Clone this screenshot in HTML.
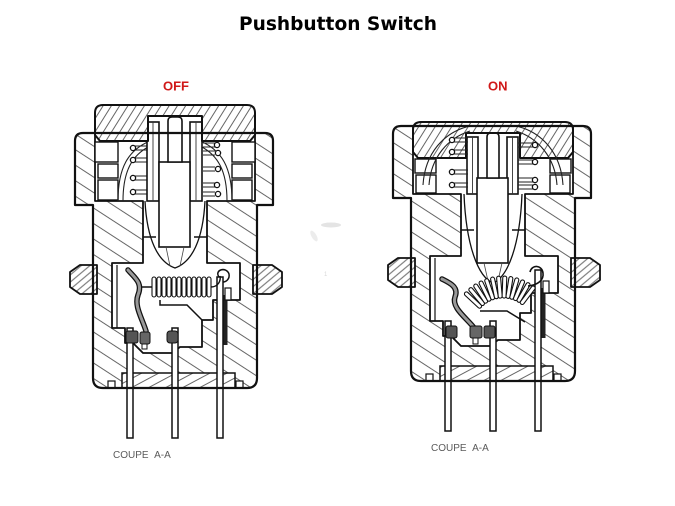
<!DOCTYPE html>
<html><head><meta charset="utf-8">
<style>
html,body{margin:0;padding:0;background:#fff;}
svg{display:block;}
</style></head><body>
<svg width="675" height="506" viewBox="0 0 675 506" xmlns="http://www.w3.org/2000/svg">
<defs>
  <pattern id="hH" patternUnits="userSpaceOnUse" width="60" height="13" patternTransform="rotate(33)">
    <rect width="60" height="13" fill="#fff"/>
    <line x1="0" y1="6.5" x2="60" y2="6.5" stroke="#666" stroke-width="0.9"/>
  </pattern>
  <pattern id="hC" patternUnits="userSpaceOnUse" width="60" height="7" patternTransform="rotate(-58)">
    <rect width="60" height="7" fill="#fff"/>
    <line x1="0" y1="3.5" x2="60" y2="3.5" stroke="#666" stroke-width="0.9"/>
  </pattern>
  <pattern id="hB" patternUnits="userSpaceOnUse" width="60" height="8" patternTransform="rotate(-28)">
    <rect width="60" height="8" fill="#fff"/>
    <line x1="0" y1="4" x2="60" y2="4" stroke="#666" stroke-width="0.9"/>
  </pattern>
  <pattern id="hK" patternUnits="userSpaceOnUse" width="60" height="5.5" patternTransform="rotate(-40)">
    <rect width="60" height="5.5" fill="#fff"/>
    <line x1="0" y1="2.75" x2="60" y2="2.75" stroke="#666" stroke-width="0.9"/>
  </pattern>

  <g id="housing">
    <!-- hatched body -->
    <path d="M83,133 H265 Q273,133 273,141 V205 H257 V378 Q257,388 247,388 H103 Q93,388 93,378 V205 H75 V141 Q75,133 83,133 Z" fill="url(#hH)"/>
    <!-- cavities -->
    <path d="M95,133 H255 V201 H207 V263 H240 V300 H213 V320 H202 V347 H180 L172,353 H143 L133,343 H125 V328 H112 V263 H143 V201 H95 Z" fill="#fff" stroke="#111" stroke-width="1.8" stroke-linejoin="round"/>
    <line x1="117" y1="265" x2="117" y2="328" stroke="#111" stroke-width="1.2"/>
    <!-- bore ledges -->
    <path d="M143,237 H156 M207,237 H194" stroke="#111" stroke-width="1.4" fill="none"/>
    <!-- knobs -->
    <path d="M80,265 L70,272 V287 L80,294 H97 V265 Z" fill="url(#hK)" stroke="#111" stroke-width="1.8" stroke-linejoin="round"/>
    <path d="M253,265 H272 L282,272 V287 L272,294 H253 Z" fill="url(#hK)" stroke="#111" stroke-width="1.8" stroke-linejoin="round"/>
    <line x1="93" y1="265" x2="93" y2="294" stroke="#111" stroke-width="1.8"/>
    <line x1="257" y1="265" x2="257" y2="294" stroke="#111" stroke-width="1.8"/>
    <!-- base plate -->
    <rect x="122" y="373" width="113" height="15" fill="url(#hB)" stroke="#111" stroke-width="1.5"/>
    <rect x="108" y="381" width="7" height="7" fill="#fff" stroke="#111" stroke-width="1.2"/>
    <rect x="236" y="381" width="7" height="7" fill="#fff" stroke="#111" stroke-width="1.2"/>
    <!-- blade -->
    <rect x="223.5" y="295" width="4" height="50" fill="#222"/>
    <rect x="225" y="288" width="6" height="12" fill="#fff" stroke="#111" stroke-width="1.2"/>
    <!-- pins -->
    <g fill="#fff" stroke="#111" stroke-width="1.5">
      <rect x="127" y="328" width="6" height="110"/>
      <rect x="172" y="328" width="6" height="110"/>
      <rect x="217" y="277" width="6" height="161"/>
    </g>
    <text x="113" y="458" font-family="Liberation Sans, Arial, sans-serif" font-size="10" fill="#5a5a5a">COUPE&#160;&#160;A-A</text>
  </g>

  <g id="outline" fill="none" stroke="#111" stroke-width="2.2" stroke-linejoin="round">
    <path d="M83,133 H265 Q273,133 273,141 V205 H257 V378 Q257,388 247,388 H103 Q93,388 93,378 V205 H75 V141 Q75,133 83,133 Z"/>
  </g>

  <path id="cap" d="M103,105 H247 Q255,105 255,113 V135 L250,141 H202 V116 H148 V141 H100 L95,135 V113 Q95,105 103,105 Z" fill="url(#hC)" stroke="#111" stroke-width="2" stroke-linejoin="round"/>
</defs>

<!-- Title -->
<text x="338" y="30" text-anchor="middle" font-family="DejaVu Sans, Verdana, sans-serif" font-weight="bold" font-size="18.6" fill="#000">Pushbutton Switch</text>
<text x="163" y="90.5" font-family="Liberation Sans, Arial, sans-serif" font-weight="bold" font-size="13" fill="#d01818">OFF</text>
<text x="488" y="90.5" font-family="Liberation Sans, Arial, sans-serif" font-weight="bold" font-size="13" fill="#d01818">ON</text>

<!-- faint artifacts -->
<ellipse cx="331" cy="225" rx="10" ry="2.5" fill="#e4e4e4"/>
<ellipse cx="314" cy="236" rx="2.5" ry="6" fill="#ececec" transform="rotate(-30 314 236)"/>
<text x="324" y="276" font-family="Liberation Sans, sans-serif" font-size="6" fill="#d8d8d8">1</text>

<!-- ================= OFF ================= -->
<use href="#housing"/>
<g>
  <!-- spring chamber boxes -->
  <g fill="#fff" stroke="#111" stroke-width="1.4">
    <rect x="95" y="142" width="23" height="20"/>
    <rect x="98" y="164" width="20" height="14"/>
    <rect x="98" y="180" width="20" height="20"/>
    <rect x="232" y="142" width="23" height="20"/>
    <rect x="232" y="164" width="20" height="14"/>
    <rect x="232" y="180" width="20" height="20"/>
  </g>
  <!-- dome -->
  <g fill="none" stroke="#222" stroke-width="1.1">
    <path d="M118,201 C118,168 128,150 150,141"/>
    <path d="M123,201 C123,171 132,155 150,146"/>
    <path d="M232,201 C232,168 222,150 200,141"/>
    <path d="M227,201 C227,171 218,155 200,146"/>
    <path d="M135,146 H147 M135,150 H147 M135,158 H147 M135,162 H147 M135,176 H147 M135,180 H147 M135,190 H147 M135,194 H147"/>
    <path d="M203,143 H215 M203,147 H215 M203,151 H215 M203,155 H215 M203,167 H215 M203,171 H215 M203,183 H215 M203,187 H215 M203,192 H215 M203,196 H215"/>
  </g>
  <g fill="#fff" stroke="#111" stroke-width="1.3">
    <circle cx="133" cy="148" r="2.6"/><circle cx="133" cy="160" r="2.6"/>
    <circle cx="133" cy="178" r="2.6"/><circle cx="133" cy="192" r="2.6"/>
    <circle cx="217" cy="145" r="2.6"/><circle cx="218" cy="153" r="2.6"/>
    <circle cx="218" cy="169" r="2.6"/><circle cx="217" cy="185" r="2.6"/>
    <circle cx="218" cy="194" r="2.6"/>
  </g>
  <!-- sleeves and plunger -->
  <g fill="#fff" stroke="#111" stroke-width="1.6">
    <rect x="147" y="122" width="12" height="79"/>
    <rect x="190" y="122" width="12" height="79"/>
    <rect x="159" y="162" width="31" height="85"/>
    <path d="M168,162 V121 Q168,117 172,117 H178 Q182,117 182,121 V162 Z"/>
  </g>
  <path d="M153,122 V201 M196,122 V201" stroke="#333" stroke-width="0.9"/>
  <path d="M145,201 C147,240 158,262 175,268 C192,262 203,240 205,201" fill="none" stroke="#111" stroke-width="1.3"/>
  <path d="M166,247 L170,266 M184,247 L180,266" fill="none" stroke="#444" stroke-width="0.8"/>
  <!-- lower chamber -->
  <polyline points="160,300 160,305 187,305 202,320" fill="none" stroke="#111" stroke-width="1.5"/>
  <g fill="#fff" stroke="#111" stroke-width="1.1">
    <rect x="152" y="277" width="4" height="20" rx="2"/>
    <rect x="157" y="277" width="4" height="20" rx="2"/>
    <rect x="162" y="277" width="4" height="20" rx="2"/>
    <rect x="167" y="277" width="4" height="20" rx="2"/>
    <rect x="172" y="277" width="4" height="20" rx="2"/>
    <rect x="177" y="277" width="4" height="20" rx="2"/>
    <rect x="182" y="277" width="4" height="20" rx="2"/>
    <rect x="187" y="277" width="4" height="20" rx="2"/>
    <rect x="192" y="277" width="4" height="20" rx="2"/>
    <rect x="197" y="277" width="4" height="20" rx="2"/>
    <rect x="202" y="277" width="4" height="20" rx="2"/>
    <rect x="207" y="277" width="4" height="20" rx="2"/>
  </g>
  <path d="M152,287 H139 M211,287 C218,287 221,281 220,276" fill="none" stroke="#111" stroke-width="1.4"/>
  <path d="M219,277 C214,270 226,266 229,274 C230,279 226,282 223,282" fill="none" stroke="#111" stroke-width="1.5"/>
  <!-- rocker -->
  <path d="M128,270 C135,278 143,283 138,295 C134,306 142,318 146,331" fill="none" stroke="#111" stroke-width="5.5" stroke-linecap="round"/>
  <path d="M128,270 C135,278 143,283 138,295 C134,306 142,318 146,331" fill="none" stroke="#999" stroke-width="3" stroke-linecap="round"/>
  <!-- contacts -->
  <rect x="126" y="331" width="12" height="12" rx="2" fill="#555" stroke="#111" stroke-width="1"/>
  <rect x="140" y="332" width="10" height="12" rx="2" fill="#666" stroke="#111" stroke-width="1"/>
  <rect x="142" y="344" width="5" height="5" fill="#fff" stroke="#111" stroke-width="1"/>
  <rect x="167" y="331" width="11" height="12" rx="3" fill="#555" stroke="#111" stroke-width="1"/>
</g>
<use href="#cap"/>
<use href="#outline"/>

<!-- ================= ON ================= -->
<g transform="translate(318,-7)">
  <use href="#housing"/>
  <!-- boxes below cap -->
  <g fill="#fff" stroke="#111" stroke-width="1.4">
    <rect x="97" y="166" width="21" height="14"/>
    <rect x="98" y="182" width="20" height="18"/>
    <rect x="232" y="166" width="21" height="14"/>
    <rect x="232" y="182" width="20" height="18"/>
  </g>
  <!-- sleeves and plunger -->
  <g fill="#fff" stroke="#111" stroke-width="1.6">
    <rect x="149" y="144" width="11" height="57"/>
    <rect x="189" y="144" width="11" height="57"/>
    <rect x="159" y="185" width="31" height="85"/>
    <path d="M169,185 V144 Q169,140 173,140 H177 Q181,140 181,144 V185 Z"/>
  </g>
  <path d="M154.5,144 V201 M194.5,144 V201" stroke="#333" stroke-width="0.9"/>
  <path d="M146,201 C148,252 160,284 175,290 C190,284 202,252 204,201" fill="none" stroke="#111" stroke-width="1.3"/>
  <path d="M166,270 L170,288 M184,270 L180,288" fill="none" stroke="#444" stroke-width="0.8"/>
  <!-- lower chamber -->
  <path d="M162,318 H189 L207,329" fill="none" stroke="#111" stroke-width="1.5"/>
  <g fill="#fff" stroke="#111" stroke-width="1.1">
    <rect x="183" y="283" width="4" height="22" rx="2" transform="rotate(-47 185 335)"/>
    <rect x="183" y="283" width="4" height="22" rx="2" transform="rotate(-40 185 335)"/>
    <rect x="183" y="283" width="4" height="22" rx="2" transform="rotate(-33 185 335)"/>
    <rect x="183" y="283" width="4" height="22" rx="2" transform="rotate(-26 185 335)"/>
    <rect x="183" y="283" width="4" height="22" rx="2" transform="rotate(-19 185 335)"/>
    <rect x="183" y="283" width="4" height="22" rx="2" transform="rotate(-12 185 335)"/>
    <rect x="183" y="283" width="4" height="22" rx="2" transform="rotate(-5 185 335)"/>
    <rect x="183" y="283" width="4" height="22" rx="2" transform="rotate(2 185 335)"/>
    <rect x="183" y="283" width="4" height="22" rx="2" transform="rotate(9 185 335)"/>
    <rect x="183" y="283" width="4" height="22" rx="2" transform="rotate(16 185 335)"/>
    <rect x="183" y="283" width="4" height="22" rx="2" transform="rotate(23 185 335)"/>
    <rect x="183" y="283" width="4" height="22" rx="2" transform="rotate(30 185 335)"/>
    <rect x="183" y="283" width="4" height="22" rx="2" transform="rotate(37 185 335)"/>
  </g>
  <path d="M210,293 C220,292 226,287 225,280 C224,272 214,271 212,279" fill="none" stroke="#111" stroke-width="1.6"/>
  <!-- rocker -->
  <path d="M124,286 C132,290 141,294 137,304 C133,315 150,326 157,336" fill="none" stroke="#111" stroke-width="5.5" stroke-linecap="round"/>
  <path d="M124,286 C132,290 141,294 137,304 C133,315 150,326 157,336" fill="none" stroke="#999" stroke-width="3" stroke-linecap="round"/>
  <!-- contacts -->
  <rect x="128" y="333" width="11" height="12" rx="2" fill="#555" stroke="#111" stroke-width="1"/>
  <rect x="152" y="333" width="12" height="12" rx="2" fill="#666" stroke="#111" stroke-width="1"/>
  <rect x="155" y="345" width="5" height="6" fill="#fff" stroke="#111" stroke-width="1"/>
  <rect x="166" y="333" width="11" height="12" rx="2" fill="#555" stroke="#111" stroke-width="1"/>
  <!-- cap pressed -->
  <use href="#cap" transform="translate(0,24)"/>
  <!-- dome and coils over cap -->
  <g fill="none" stroke="#222" stroke-width="1.1">
    <path d="M105,192 C107,160 126,139 152,133"/>
    <path d="M111,192 C113,164 130,145 152,138"/>
    <path d="M245,192 C243,160 224,139 198,133"/>
    <path d="M239,192 C237,164 220,145 198,138"/>
    <path d="M136,145 H150 M136,149 H150 M136,157 H150 M136,161 H150 M136,177 H150 M136,181 H150 M136,190 H150 M136,194 H150"/>
    <path d="M200,150 H215 M200,154 H215 M200,167 H215 M200,171 H215 M200,185 H215 M200,189 H215 M200,192 H215 M200,196 H215"/>
  </g>
  <g fill="#fff" stroke="#111" stroke-width="1.3">
    <circle cx="134" cy="147" r="2.6"/><circle cx="134" cy="159" r="2.6"/>
    <circle cx="134" cy="179" r="2.6"/><circle cx="134" cy="192" r="2.6"/>
    <circle cx="217" cy="152" r="2.6"/><circle cx="217" cy="169" r="2.6"/>
    <circle cx="217" cy="187" r="2.6"/><circle cx="217" cy="194" r="2.6"/>
  </g>
  <use href="#outline"/>
</g>
</svg>
</body></html>
